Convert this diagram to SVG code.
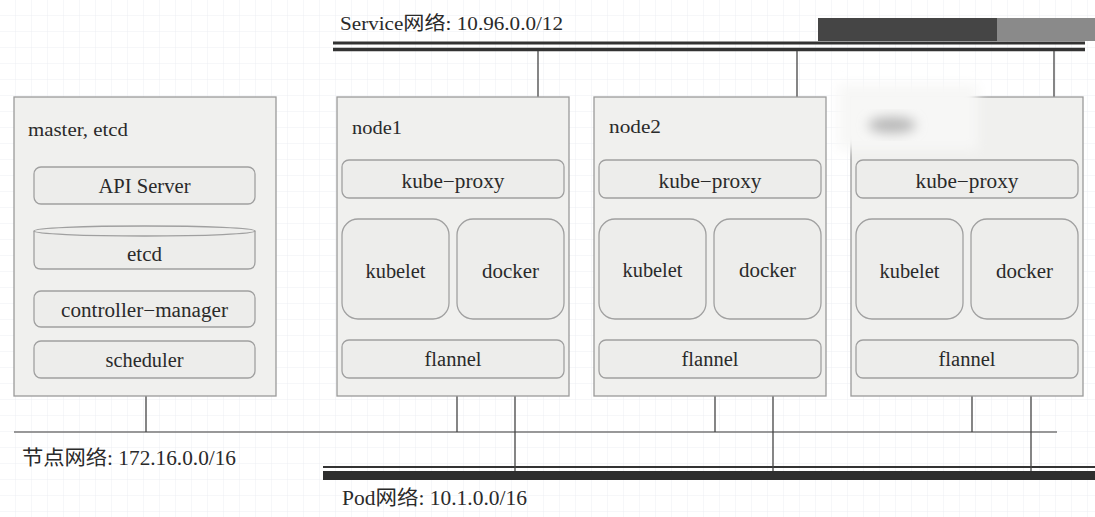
<svg xmlns="http://www.w3.org/2000/svg" width="1095" height="517" viewBox="0 0 1095 517">
<style>
.box{fill:#f0f0ee;stroke:#9a9a9a;stroke-width:1.3}
.inner{fill:#ededeb;stroke:#a0a0a0;stroke-width:1.3}
.t{font-family:"Liberation Serif","Noto Sans CJK SC",serif;fill:#2a2a2a}
.c{text-anchor:middle}
.ln{stroke:#444;stroke-width:1.3;fill:none}
.gl{stroke:#777;stroke-width:1.5;fill:none}
</style>
<defs>
<pattern id="grid" width="16" height="16" patternUnits="userSpaceOnUse">
<path d="M16 0V16M0 16H16" stroke="#eceef3" stroke-width="1" fill="none"/>
</pattern>
<filter id="blur" x="-50%" y="-50%" width="200%" height="200%"><feGaussianBlur stdDeviation="6"/></filter>
</defs>
<rect width="1095" height="517" fill="#ffffff"/>
<rect width="1095" height="517" fill="url(#grid)"/>

<g id="service-net">
<rect x="818" y="18" width="180" height="23" fill="#454545"/>
<rect x="997" y="18" width="98" height="23" fill="#8a8a8a"/>
<line x1="333" y1="43" x2="1085" y2="43" stroke="#333" stroke-width="3"/>
<line x1="333" y1="49.5" x2="1085" y2="49.5" stroke="#333" stroke-width="3.5"/>
<text class="t" x="340" y="30" font-size="19" textLength="223" lengthAdjust="spacingAndGlyphs">Service网络: 10.96.0.0/12</text>
</g>

<g id="node-net">
<line x1="14" y1="432" x2="1057" y2="432" class="gl"/>
<text class="t" x="22" y="465" font-size="20" textLength="214" lengthAdjust="spacingAndGlyphs">节点网络: 172.16.0.0/16</text>
</g>

<g id="pod-net">
<line x1="323" y1="467" x2="1095" y2="467" stroke="#333" stroke-width="2"/>
<rect x="323" y="471" width="772" height="9" fill="#2e2e2e"/>
<text class="t" x="342" y="505" font-size="20" textLength="185" lengthAdjust="spacingAndGlyphs">Pod网络: 10.1.0.0/16</text>
</g>

<g id="connectors">
<line class="ln" x1="538" y1="51" x2="538" y2="160"/>
<line class="ln" x1="797" y1="51" x2="797" y2="160"/>
<line class="ln" x1="1054" y1="51" x2="1054" y2="160"/>
<line class="ln" x1="146" y1="396" x2="146" y2="432"/>
<line class="ln" x1="457" y1="396" x2="457" y2="432"/>
<line class="ln" x1="715" y1="396" x2="715" y2="432"/>
<line class="ln" x1="972" y1="396" x2="972" y2="432"/>
<line class="ln" x1="515" y1="378" x2="515" y2="471"/>
<line class="ln" x1="773" y1="378" x2="773" y2="471"/>
<line class="ln" x1="1031" y1="378" x2="1031" y2="471"/>
</g>

<g id="master">
<rect class="box" x="14" y="97" width="262" height="299"/>
<text class="t" x="28" y="136" font-size="19" textLength="100" lengthAdjust="spacingAndGlyphs">master, etcd</text>
<g id="api-server">
<rect class="inner" x="34" y="167" width="221" height="37" rx="7"/>
<text class="t c" x="144.5" y="193" font-size="20" textLength="92" lengthAdjust="spacingAndGlyphs">API Server</text>
</g>
<g id="etcd">
<path class="inner" d="M34,231 A110.5,5 0 0 1 255,231 L255,262 Q255,269 248,269 L41,269 Q34,269 34,262 Z"/>
<path d="M34,231 A110.5,5 0 0 0 255,231" fill="none" stroke="#a0a0a0" stroke-width="1.3"/>
<text class="t c" x="144.5" y="261" font-size="20" textLength="35" lengthAdjust="spacingAndGlyphs">etcd</text>
</g>
<g id="controller-manager">
<rect class="inner" x="34" y="291" width="221" height="36" rx="7"/>
<text class="t c" x="144.5" y="317" font-size="20" textLength="167" lengthAdjust="spacingAndGlyphs">controller−manager</text>
</g>
<g id="scheduler">
<rect class="inner" x="34" y="341" width="221" height="37" rx="7"/>
<text class="t c" x="144.5" y="367" font-size="20" textLength="78" lengthAdjust="spacingAndGlyphs">scheduler</text>
</g>
</g>

<g id="node1">
<rect class="box" x="337" y="97" width="232" height="299"/>
<text class="t" x="352" y="134" font-size="19" textLength="50" lengthAdjust="spacingAndGlyphs">node1</text>
<rect class="inner" x="342" y="160" width="222" height="38" rx="7"/>
<text class="t c" x="453" y="188" font-size="20" textLength="103" lengthAdjust="spacingAndGlyphs">kube−proxy</text>
<rect class="inner" x="342" y="219" width="107" height="100" rx="16"/>
<text class="t c" x="395.5" y="278" font-size="20" textLength="60" lengthAdjust="spacingAndGlyphs">kubelet</text>
<rect class="inner" x="457" y="219" width="107" height="100" rx="16"/>
<text class="t c" x="510.5" y="278" font-size="20" textLength="57" lengthAdjust="spacingAndGlyphs">docker</text>
<rect class="inner" x="342" y="340" width="222" height="38" rx="7"/>
<text class="t c" x="453" y="366" font-size="20" textLength="57" lengthAdjust="spacingAndGlyphs">flannel</text>
</g>

<g id="node2">
<rect class="box" x="594" y="97" width="232" height="299"/>
<text class="t" x="609" y="133" font-size="19" textLength="52" lengthAdjust="spacingAndGlyphs">node2</text>
<rect class="inner" x="599" y="160" width="222" height="38" rx="7"/>
<text class="t c" x="710" y="188" font-size="20" textLength="103" lengthAdjust="spacingAndGlyphs">kube−proxy</text>
<rect class="inner" x="599" y="219" width="107" height="100" rx="16"/>
<text class="t c" x="652.5" y="277" font-size="20" textLength="60" lengthAdjust="spacingAndGlyphs">kubelet</text>
<rect class="inner" x="714" y="219" width="107" height="100" rx="16"/>
<text class="t c" x="767.5" y="277" font-size="20" textLength="57" lengthAdjust="spacingAndGlyphs">docker</text>
<rect class="inner" x="599" y="340" width="222" height="38" rx="7"/>
<text class="t c" x="710" y="366" font-size="20" textLength="57" lengthAdjust="spacingAndGlyphs">flannel</text>
</g>

<g id="node3">
<rect class="box" x="851" y="97" width="232" height="299"/>
<rect x="838" y="84" width="140" height="66" fill="#f7f7f6" filter="url(#blur)"/>
<ellipse cx="892" cy="125" rx="24" ry="8" fill="#b8b8b8" filter="url(#blur)"/>
<rect class="inner" x="856" y="160" width="222" height="38" rx="7"/>
<text class="t c" x="967" y="188" font-size="20" textLength="103" lengthAdjust="spacingAndGlyphs">kube−proxy</text>
<rect class="inner" x="856" y="219" width="107" height="100" rx="16"/>
<text class="t c" x="909.5" y="278" font-size="20" textLength="60" lengthAdjust="spacingAndGlyphs">kubelet</text>
<rect class="inner" x="971" y="219" width="107" height="100" rx="16"/>
<text class="t c" x="1024.5" y="278" font-size="20" textLength="57" lengthAdjust="spacingAndGlyphs">docker</text>
<rect class="inner" x="856" y="340" width="222" height="38" rx="7"/>
<text class="t c" x="967" y="366" font-size="20" textLength="57" lengthAdjust="spacingAndGlyphs">flannel</text>
</g>
</svg>
